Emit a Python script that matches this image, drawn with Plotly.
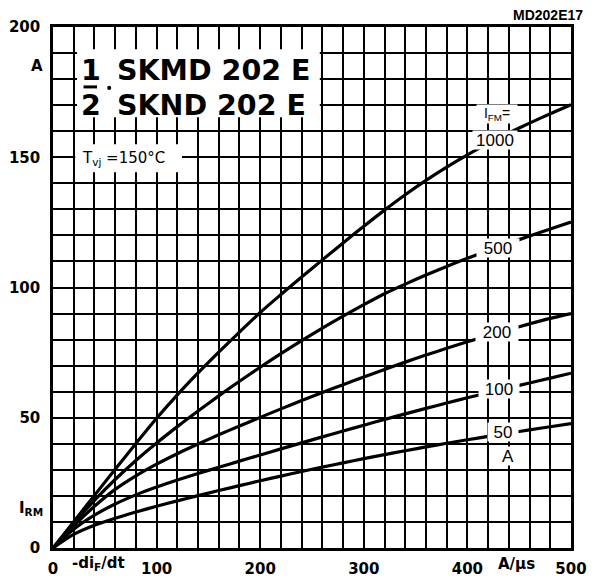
import plotly.graph_objects as go

# ---------------- data ----------------
di_dt = [0, 20, 40, 60, 80, 100, 120, 140, 160, 180, 200, 220, 240, 260, 280,
         300, 320, 340, 360, 380, 400, 420, 440, 460, 480, 500]

irm_1000 = [0, 10.1, 20.2, 30.2, 40.1, 49.8, 58.8, 67.2, 75.2, 82.9, 90.4, 97.3, 104.0,
            110.6, 117.1, 123.5, 129.7, 135.6, 141.1, 146.2, 150.9, 155.3, 159.3, 163.1,
            166.7, 170.2]
irm_500 = [0, 9.5, 18.3, 26.3, 33.6, 40.3, 46.6, 52.6, 58.4, 64.0, 69.4, 74.6, 79.6,
           84.4, 89.0, 93.4, 97.6, 101.3, 104.8, 108.1, 111.2, 114.15, 117.0, 119.75,
           122.45, 125.1]
irm_200 = [0, 8.5, 16.0, 22.5, 27.7, 32.2, 36.2, 39.9, 43.45, 46.85, 50.15, 53.4, 56.6,
           59.7, 62.7, 65.65, 68.55, 71.35, 74.05, 76.65, 79.15, 81.55, 83.85, 86.05,
           88.15, 90.0]
irm_100 = [0, 7.2, 12.6, 16.9, 20.4, 23.4, 26.1, 28.6, 31.0, 33.35, 35.7, 38.05, 40.35,
           42.65, 44.9, 47.15, 49.35, 51.5, 53.6, 55.65, 57.65, 59.6, 61.5, 63.35, 65.2,
           67.1]
irm_50 = [0, 5.2, 8.7, 11.4, 13.8, 16.0, 18.1, 20.1, 22.05, 23.95, 25.8, 27.6, 29.35,
          31.05, 32.7, 34.3, 35.85, 37.35, 38.8, 40.2, 41.55, 42.85, 44.1, 45.35, 46.55,
          47.75]

series = [irm_1000, irm_500, irm_200, irm_100, irm_50]
curve_labels = ["1000", "500", "200", "100", "50"]

x_tickvals = [0, 100, 200, 300, 400, 500]
x_ticktext = ["0", "100", "200", "300", "400", "500"]
y_tickvals = [0, 50, 100, 150, 200]
y_ticktext = ["0", "50", "100", "150", "200"]

# ---------------- figure ----------------
fig = go.Figure()
for ys in series:
    fig.add_trace(go.Scatter(x=di_dt, y=ys, mode="lines",
                             line=dict(color="black", width=3.2, shape="spline", smoothing=0.8),
                             hoverinfo="skip", showlegend=False))

BOLD = "DejaVu Sans"
axis_common = dict(showgrid=True, gridcolor="black", gridwidth=2,
                   showline=True, linecolor="black", linewidth=2.5, mirror=True,
                   zeroline=False, ticks="", fixedrange=True, automargin=False)

fig.update_xaxes(range=[0, 500], tickvals=x_tickvals, ticktext=x_ticktext,
                 minor=dict(dtick=20, tick0=0, showgrid=True, gridcolor="black", gridwidth=2),
                 tickfont=dict(family=BOLD, size=15, color="black", weight="bold"),
                 ticklabelstandoff=5, **axis_common)
fig.update_yaxes(range=[0, 200], tickvals=y_tickvals, ticktext=y_ticktext,
                 minor=dict(dtick=10, tick0=0, showgrid=True, gridcolor="black", gridwidth=2),
                 tickfont=dict(family=BOLD, size=15, color="black", weight="bold"),
                 ticklabelstandoff=7, **axis_common)

# white boxes for title blocks
fig.add_shape(type="rect", xref="x", yref="y", x0=23.2, x1=257.5, y0=165.4, y1=191.5,
              fillcolor="white", line=dict(width=0), layer="above")
fig.add_shape(type="rect", xref="x", yref="y", x0=21.5, x1=124.5, y0=144.2, y1=155,
              fillcolor="white", line=dict(width=0), layer="above")
# fraction bar and dot
fig.add_shape(type="line", xref="x", yref="y", x0=29.5, x1=42.5, y0=177.0, y1=177.0,
              line=dict(color="black", width=3), layer="above")
fig.add_shape(type="circle", xref="x", yref="y", x0=52.3, x1=56.2, y0=175.8, y1=177.4,
              fillcolor="black", line=dict(width=0), layer="above")

ann = []
def A(text, x, y, size, family="Liberation Sans", bold=False, xanchor="center",
      yanchor="middle", bg=None, width=None, height=None, ref="x"):
    if ref == "paper":
        xr, yr = "paper", "paper"
        x, y = x / 500.0, y / 200.0
    else:
        xr, yr = "x", "y"
    d = dict(text=text, x=x, y=y, xref=xr, yref=yr, showarrow=False,
             xanchor=xanchor, yanchor=yanchor,
             font=dict(family=family, size=size, color="black",
                       weight="bold" if bold else "normal"))
    if bg:
        d.update(bgcolor=bg, borderpad=0)
    if width:
        d["width"] = width
    if height:
        d["height"] = height
    ann.append(d)

# title
A("1", 36.7, 183.4, 28.5, BOLD, True)
A("2", 36.7, 169.9, 28.5, BOLD, True)
A("SKMD 202 E", 59.5, 183.4, 28.5, BOLD, True, xanchor="left")
A("SKND 202 E", 59.5, 169.9, 28.5, BOLD, True, xanchor="left")
A("T<sub>vj</sub> =150°C", 26.5, 149.4, 15, "DejaVu Sans", False, xanchor="left")

# curve labels
A("I<sub>FM</sub>=", 428.6, 166.5, 14, "Liberation Sans", False, bg="white", width=40)
label_pos = [(426.6, 156.5), (429.5, 115.0), (428.6, 83.1), (430.5, 61.2), (434.4, 44.6)]
label_w = [44, 42, 42, 40, 30]
for t, (lx, ly), w in zip(curve_labels, label_pos, label_w):
    A(t, lx, ly, 17, "Liberation Sans", False, bg="white", width=w, height=18)
A("A", 439.2, 35.4, 17, "Liberation Sans", False, bg="white", width=16, height=18)

# axis extra labels (outside plot area -> paper refs)
A("A", -7.5, 185.0, 15, BOLD, True, xanchor="right", ref="paper")
A("I<sub>RM</sub>", -8.0, 15.0, 15, BOLD, True, xanchor="right", ref="paper")
A("-di<sub>F</sub>/dt", 43.5, -6.0, 15, BOLD, True, ref="paper")
A("A/µs", 447.0, -6.2, 15, BOLD, True, ref="paper")

fig.update_layout(annotations=ann)
fig.add_annotation(text="MD202E17", xref="paper", yref="paper", x=1.027, y=1.0,
                   xanchor="right", yanchor="bottom", yshift=2, showarrow=False,
                   font=dict(family="Liberation Sans", size=14, color="black", weight="bold"))

# page body has an 8px margin: size the figure so the plot lands where the reference has it
fig.update_layout(width=591, height=570,
                  margin=dict(l=45, r=28, t=19, b=30, autoexpand=False),
                  paper_bgcolor="white", plot_bgcolor="white",
                  showlegend=False)

fig.write_html("out.html")
